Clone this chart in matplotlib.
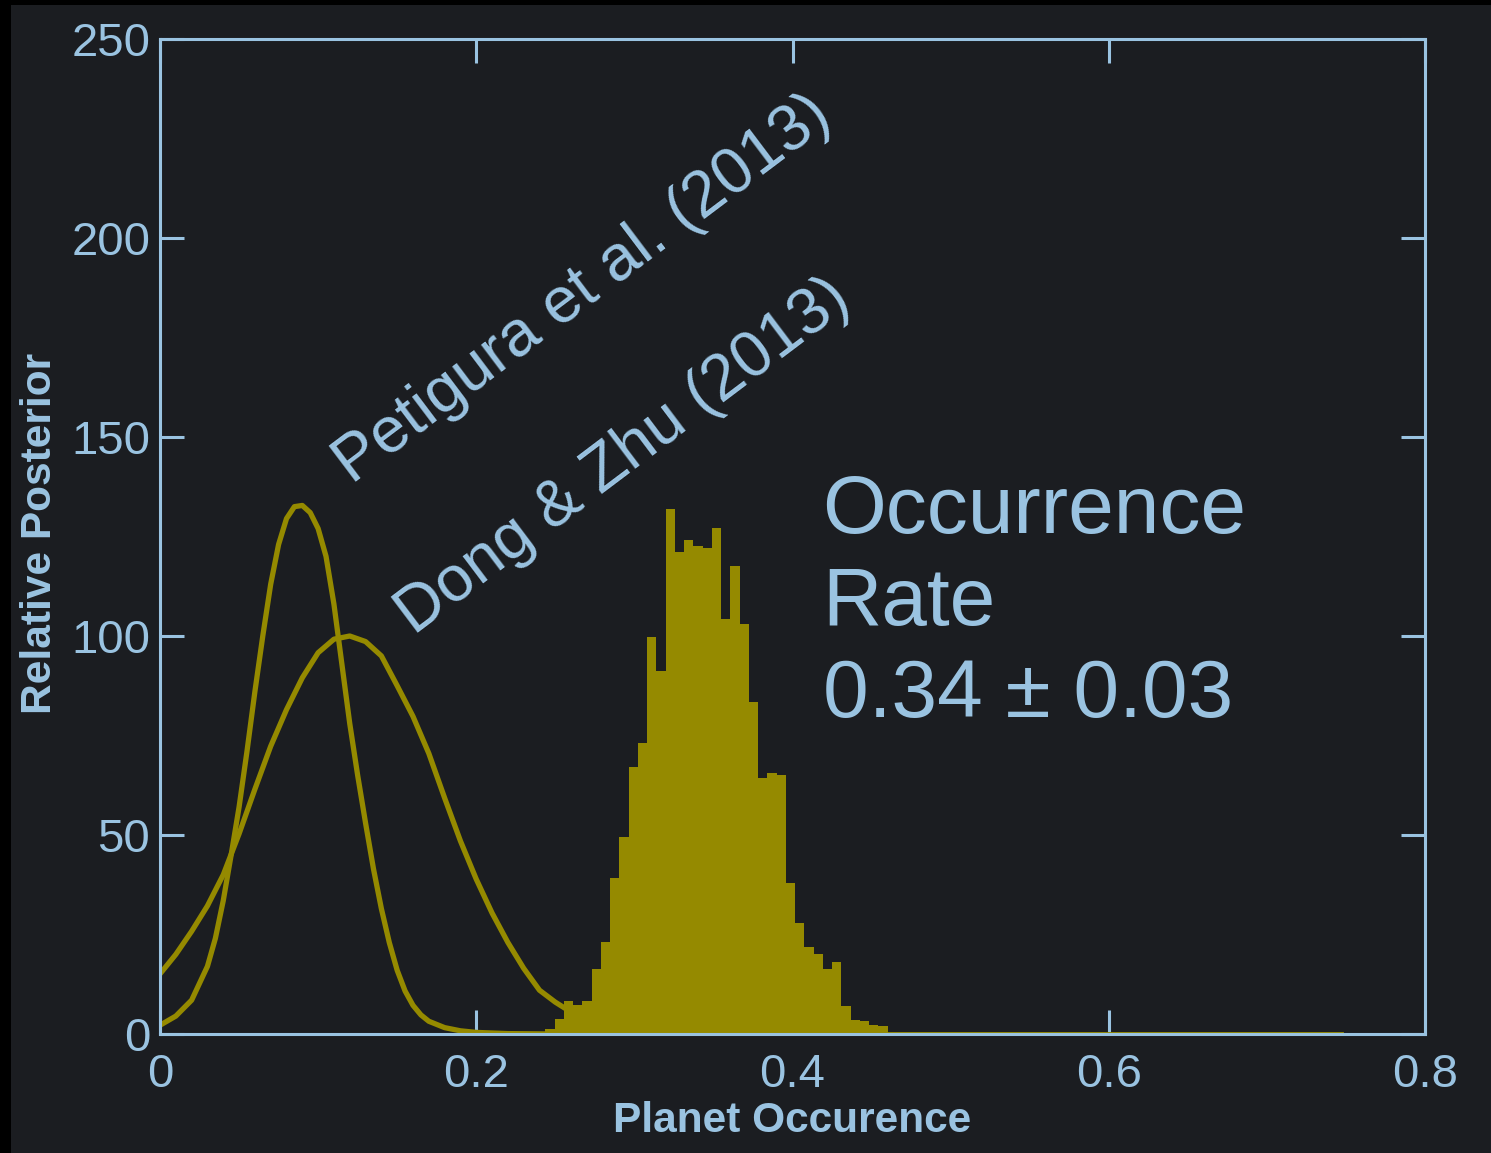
import numpy as np
import matplotlib
matplotlib.use("Agg")
import matplotlib.pyplot as plt
from matplotlib.patches import Rectangle

plt.rcParams['font.family'] = ['Liberation Sans', 'DejaVu Sans']

# ---------------- data ----------------
# Petigura et al. (2013) posterior curve
pet_x = [0.000, 0.010, 0.020, 0.030, 0.035, 0.040, 0.045, 0.050, 0.055, 0.060,
         0.065, 0.070, 0.075, 0.080, 0.085, 0.090, 0.095, 0.100, 0.105, 0.110,
         0.115, 0.120, 0.125, 0.130, 0.135, 0.140, 0.145, 0.150, 0.155, 0.160,
         0.165, 0.170, 0.180, 0.190, 0.200, 0.220, 0.250]
pet_y = [2.2, 4.5, 8.5, 17.0, 24.0, 33.5, 45.0, 57.0, 71.0, 86.0,
         100.0, 113.0, 123.0, 129.5, 132.5, 132.8, 131.0, 127.0, 120.0, 108.0,
         93.0, 78.0, 65.0, 53.0, 41.5, 31.5, 23.0, 16.0, 10.8, 7.2,
         4.8, 3.2, 1.6, 0.8, 0.4, 0.1, 0.0]

# Dong & Zhu (2013) posterior curve
dong_x = [0.000, 0.010, 0.020, 0.030, 0.040, 0.050, 0.060, 0.070, 0.080, 0.090,
          0.100, 0.110, 0.120, 0.130, 0.140, 0.150, 0.160, 0.170, 0.180, 0.190,
          0.200, 0.210, 0.220, 0.230, 0.240, 0.250, 0.260, 0.270, 0.285, 0.300]
dong_y = [15.1, 20.0, 25.8, 32.2, 40.0, 50.3, 61.5, 72.3, 81.5, 89.5,
          95.8, 99.2, 100.0, 98.6, 95.0, 87.5, 79.8, 70.5, 59.3, 48.5,
          38.9, 30.4, 23.0, 16.5, 11.0, 8.0, 5.5, 3.5, 2.0, 1.0]

# Histogram of occurrence rate posterior
hist_start = 0.2437
hist_width = 0.00585
hist_counts = [1.3, 3.8, 8.3, 7.2, 8.3, 16.3, 23.1, 39.2, 49.4, 67.1,
               73.2, 99.8, 91.2, 132.0, 121.0, 124.0, 122.6, 122.0, 127.1, 104.3,
               117.7, 102.9, 83.3, 64.2, 65.6, 65.2, 38.0, 28.0, 21.9, 20.0,
               16.4, 18.2, 7.1, 3.5, 3.3, 2.2, 2.0]
hist_zero_range = [0.195, 0.747]

x_ticks = [0, 0.2, 0.4, 0.6, 0.8]
x_ticklabels = ['0', '0.2', '0.4', '0.6', '0.8']
y_ticks = [0, 50, 100, 150, 200, 250]
y_ticklabels = ['0', '50', '100', '150', '200', '250']

label_pet = 'Petigura et al. (2013)'
label_dong = 'Dong & Zhu (2013)'
rate_lines = ['Occurrence', 'Rate', '0.34 \u00b1 0.03']

# ---------------- style ----------------
BG = '#1b1d21'
YEL = '#958a00'
BLUE = '#9ac3e1'

W, H = 1491, 1153
fig = plt.figure(figsize=(W / 100, H / 100), dpi=100)
fig.patch.set_facecolor('black')
bg_rect = Rectangle((11 / W, 0), 1 - 11 / W, 1 - 5 / H,
                    transform=fig.transFigure, facecolor=BG,
                    edgecolor='none', zorder=-5)
fig.patches.append(bg_rect)

ax = fig.add_axes([160 / W, 1 - 1034 / H, (1425 - 160) / W, (1034 - 39) / H])
ax.set_facecolor(BG)
ax.set_zorder(1)

# curves
ax.plot(pet_x, pet_y, color=YEL, lw=3.8, solid_capstyle='butt',
        solid_joinstyle='round', zorder=2)
ax.plot(dong_x, dong_y, color=YEL, lw=3.8, solid_capstyle='butt',
        solid_joinstyle='round', zorder=2)

# histogram
edges = hist_start + hist_width * np.arange(len(hist_counts) + 1)
ax.plot(hist_zero_range, [0, 0], color=YEL, lw=3.5, zorder=2.5)
ax.stairs(hist_counts, edges, fill=True, color=YEL, zorder=3)

ax.set_xlim(0, 0.8)
ax.set_ylim(0, 250)
ax.set_xticks(x_ticks)
ax.set_xticklabels(x_ticklabels)
ax.set_yticks(y_ticks)
ax.set_yticklabels(y_ticklabels)

for s in ax.spines.values():
    s.set_color(BLUE)
    s.set_linewidth(2.2)
    s.set_zorder(5)

ax.tick_params(axis='both', which='major', direction='in', length=17, width=2.2,
               color=BLUE, labelcolor=BLUE, labelsize=34,
               top=True, right=True)
ax.tick_params(axis='x', pad=14)
ax.tick_params(axis='y', pad=7)

ax.set_xlabel('Planet Occurence', color=BLUE, fontsize=30.5, fontweight='bold')
ax.set_ylabel('Relative Posterior', color=BLUE, fontsize=30.5, fontweight='bold')
ax.xaxis.set_label_coords(0.5, -0.067)
ax.yaxis.set_label_coords(-0.079, 0.503)

# rotated annotations
ax.text(0.1213, 138.0, label_pet, color=BLUE, fontsize=46.5, rotation=37,
        rotation_mode='anchor', ha='left', va='baseline', zorder=6)
ax.text(0.1609, 100.0, label_dong, color=BLUE, fontsize=46.5, rotation=37,
        rotation_mode='anchor', ha='left', va='baseline', zorder=6)

# occurrence rate text
for line, yb in zip(rate_lines, [125.9, 102.8, 79.6]):
    ax.text(0.4190, yb, line, color=BLUE, fontsize=59, ha='left', va='baseline',
            zorder=6)

fig.savefig('out.png', dpi=100, facecolor=fig.get_facecolor())
